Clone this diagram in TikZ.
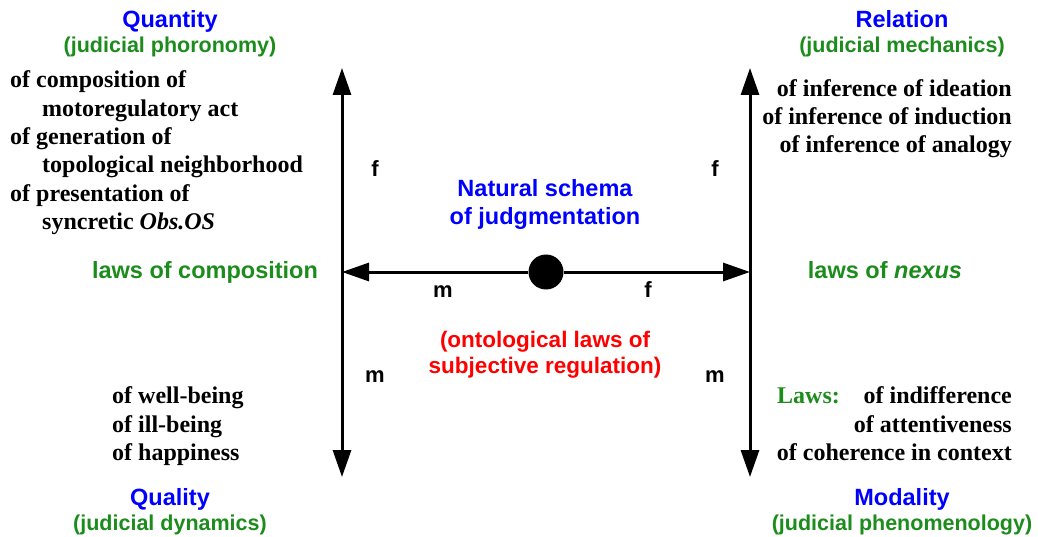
\documentclass[tikz,border=0pt]{standalone}
\usepackage{fontspec}
\setmainfont{Liberation Serif}
\setsansfont{Liberation Sans}
\usepackage{tikz}
\usetikzlibrary{arrows.meta}

\definecolor{hdblue}{RGB}{0,0,255}
\definecolor{lawgreen}{RGB}{28,140,28}
\definecolor{notered}{RGB}{255,0,0}

\begin{document}
\begin{tikzpicture}[
  x=1pt,y=-1pt,
  >={Triangle[length=27pt,width=18pt]},
  axis/.style={line width=3pt},
  head/.style={text=hdblue,inner sep=0,anchor=base,font=\sffamily\bfseries\fontsize{23.5}{26}\selectfont},
  sub/.style={text=lawgreen,inner sep=0,anchor=base,font=\sffamily\bfseries\fontsize{21.5}{24}\selectfont},
  lawtxt/.style={text=lawgreen,inner sep=0,anchor=base,font=\sffamily\bfseries\fontsize{23.5}{26}\selectfont},
  note/.style={text=notered,inner sep=0,anchor=base,font=\sffamily\bfseries\fontsize{22.5}{25}\selectfont},
  lbl/.style={inner sep=0,anchor=base,font=\sffamily\bfseries\fontsize{22}{24}\selectfont},
  item/.style={inner sep=0,font=\bfseries\fontsize{24}{27}\selectfont}
]
\useasboundingbox (0,0) rectangle (1038,537);

% frame of the schema
\coordinate (qtop) at (342,68);
\coordinate (qbot) at (342,477);
\coordinate (rtop) at (750,68);
\coordinate (rbot) at (750,477);
\coordinate (ml) at (342,272);
\coordinate (mr) at (750,272);
\node[circle,fill=black,inner sep=0,minimum size=35pt] (c) at (546,272) {};

\draw[axis,<->] (qtop) -- (qbot);
\draw[axis,<->] (rtop) -- (rbot);
\draw[axis,->] (c) -- (ml);
\draw[axis,->] (c) -- (mr);

% headings
\node[head] (quant) at (170,28) {Quantity};
\node[sub] (quantsub) at (170,53) {(judicial phoronomy)};
\node[head] (rel) at (902,28) {Relation};
\node[sub] (relsub) at (902,53) {(judicial mechanics)};
\node[head] (qual) at (170,505) {Quality};
\node[sub] (qualsub) at (170,530) {(judicial dynamics)};
\node[head] (modal) at (902,505) {Modality};
\node[sub] (modalsub) at (902,530) {(judicial phenomenology)};

% centre
\node[head] (nat1) at (545,197) {Natural schema};
\node[head] (nat2) at (545,225) {of judgmentation};
\node[note] (ont1) at (545,347) {(ontological laws of};
\node[note] (ont2) at (545,373) {subjective regulation)};
\node[lawtxt] (lcomp) at (205,279) {laws of composition};
\node[lawtxt] (lnex) at (885,279) {laws of \textit{nexus}};

% f and m marks
\node[lbl] (fl) at (375,177) {f};
\node[lbl] (fr) at (715,177) {f};
\node[lbl] (mlw) at (375,382) {m};
\node[lbl] (mrw) at (715,382) {m};
\node[lbl] (mh) at (443,297) {m};
\node[lbl] (fh) at (648,297) {f};

% quantity laws
\node[item,anchor=base west] (q1) at (10,88) {of composition of};
\node[item,anchor=base west] (q2) at (42,117) {motoregulatory act};
\node[item,anchor=base west] (q3) at (10,145) {of generation of};
\node[item,anchor=base west] (q4) at (42,173) {topological neighborhood};
\node[item,anchor=base west] (q5) at (10,202) {of presentation of};
\node[item,anchor=base west] (q6) at (42,230) {syncretic \textit{Obs.OS}};

% relation laws
\node[item,anchor=base east] (r1) at (1012,97) {of inference of ideation};
\node[item,anchor=base east] (r2) at (1012,125) {of inference of induction};
\node[item,anchor=base east] (r3) at (1012,153) {of inference of analogy};

% quality laws
\node[item,anchor=base west] (l1) at (112,403) {of well-being};
\node[item,anchor=base west] (l2) at (112,432) {of ill-being};
\node[item,anchor=base west] (l3) at (112,460) {of happiness};

% modality laws
\node[item,anchor=base west,text=lawgreen] (laws) at (777,403) {Laws:};
\node[item,anchor=base east] (d1) at (1012,403) {of indifference};
\node[item,anchor=base east] (d2) at (1012,432) {of attentiveness};
\node[item,anchor=base east] (d3) at (1012,460) {of coherence in context};
\end{tikzpicture}
\end{document}
